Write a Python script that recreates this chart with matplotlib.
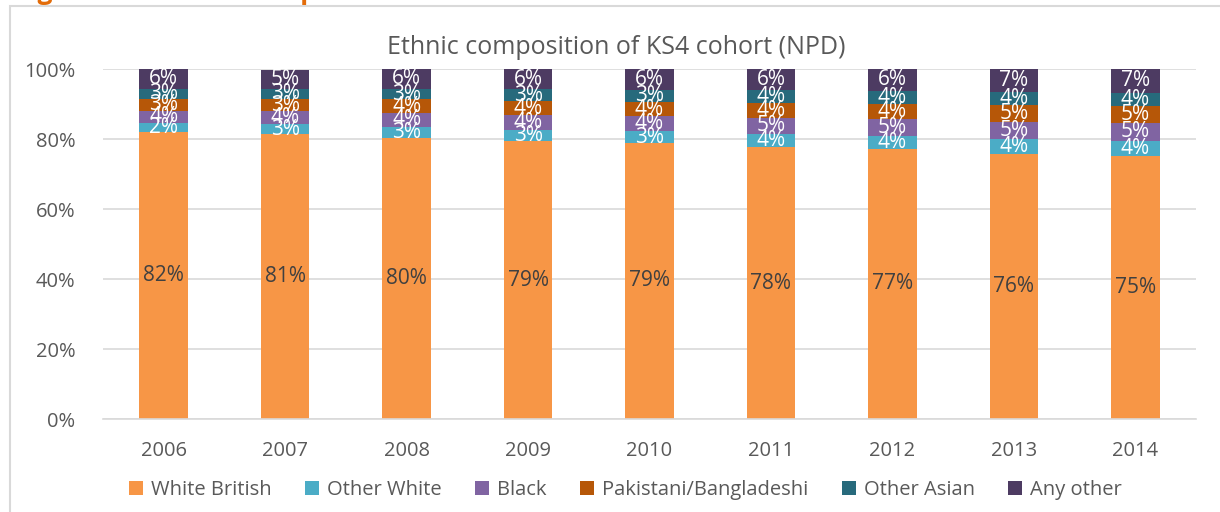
import numpy as np
import matplotlib.pyplot as plt
from matplotlib.patches import Rectangle

plt.rcParams['font.family'] = ['Open Sans', 'DejaVu Sans']

years = ['2006', '2007', '2008', '2009', '2010', '2011', '2012', '2013', '2014']
groups = ['White British', 'Other White', 'Black', 'Pakistani/Bangladeshi', 'Other Asian', 'Any other']

white_british = [82.1, 81.4, 80.2, 79.3, 78.9, 77.7, 77.2, 75.8, 75.1]
other_white = [2.4, 2.9, 3.3, 3.4, 3.3, 3.7, 3.7, 4.1, 4.4]
black = [3.6, 3.7, 4.0, 4.1, 4.3, 4.7, 4.8, 4.9, 5.1]
pak_bang = [3.3, 3.4, 3.8, 4.0, 4.1, 4.3, 4.3, 4.8, 4.8]
other_asian = [3.0, 3.0, 3.1, 3.4, 3.4, 3.7, 3.8, 3.8, 3.8]
any_other = [5.6, 5.4, 5.6, 5.8, 6.0, 5.9, 6.2, 6.6, 6.8]

series = [white_british, other_white, black, pak_bang, other_asian, any_other]
colors = ['#F79646', '#4BACC6', '#8064A2', '#B65708', '#276A7C', '#4D3B62']
label_colors = ['#404040', 'white', 'white', 'white', 'white', 'white']

fig = plt.figure(figsize=(12.2, 5.12), dpi=100)
ax = fig.add_axes([0.0844, 0.1816, 0.896, 0.6836])

x = np.arange(len(years))
bottom = np.zeros(len(years))
for vals, name, c, lc in zip(series, groups, colors, label_colors):
    vals = np.array(vals)
    ax.bar(x, vals, 0.4, bottom=bottom, color=c, label=name, zorder=2)
    for xi, b, v in zip(x, bottom, vals):
        ax.text(xi, b + v / 2, '%d%%' % round(v), ha='center', va='center',
                color=lc, fontsize=15, zorder=3)
    bottom += vals

ax.set_xlim(-0.5, len(years) - 0.5)
ax.set_ylim(0, 100)
ax.set_yticks(range(0, 101, 20))
ax.set_yticklabels(['%d%%' % v for v in range(0, 101, 20)])
ax.set_xticks(x)
ax.set_xticklabels(years)
ax.tick_params(length=0, labelsize=14.5, labelcolor='#595959')
ax.tick_params(axis='x', pad=16)
ax.tick_params(axis='y', pad=20)
ax.grid(axis='y', color='#D9D9D9', linewidth=1.2, zorder=0)
for s in ['top', 'right', 'left']:
    ax.spines[s].set_visible(False)
ax.spines['bottom'].set_color('#D9D9D9')
ax.spines['bottom'].set_linewidth(1.2)

fig.text(0.505, 0.907, 'Ethnic composition of KS4 cohort (NPD)', ha='center', va='center',
         fontsize=18, color='#595959')

ax.legend(loc='center', bbox_to_anchor=(0.478, -0.203), ncol=6, frameon=False,
          fontsize=14.5, labelcolor='#595959', handlelength=0.7, handleheight=0.7,
          handletextpad=0.4, columnspacing=1.65)

# outer chart frame and cut-off caption above it
fig.patches.append(Rectangle((10 / 1220, -0.1), 1.2, 1.088, transform=fig.transFigure,
                             fill=False, edgecolor='#D9D9D9', linewidth=1.5))
fig.text(0.012, 1 + 1 / 512, 'Figure 4.1: Ethnic composition', ha='left', va='baseline',
         fontsize=19, fontweight='bold', color='#E36C09')

fig.savefig('out.png', dpi=100)
